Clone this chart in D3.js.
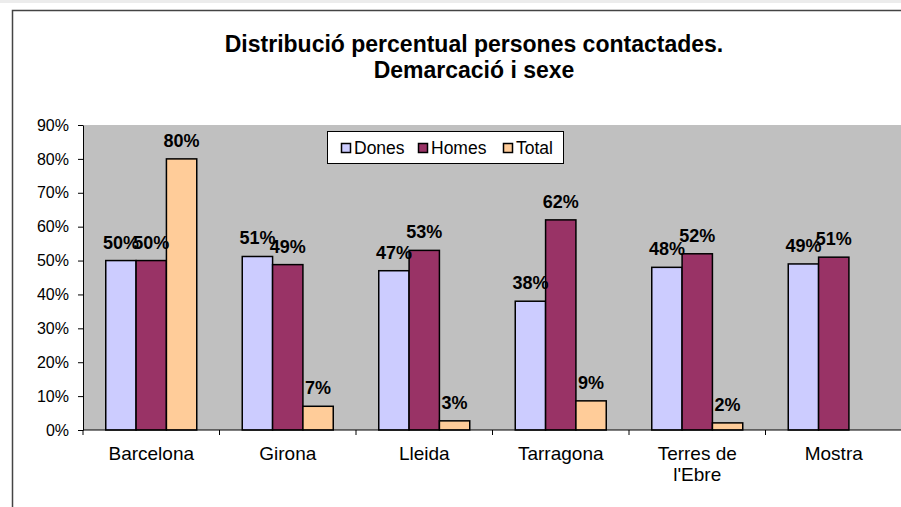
<!DOCTYPE html>
<html>
<head>
<meta charset="utf-8">
<script src="https://cdn.jsdelivr.net/npm/d3@7"></script>
<style>
  body { margin: 0; background: #fff; }
  svg { display: block; font-family: "Liberation Sans", Arial, sans-serif; }
</style>
</head>
<body>
<div id="elements"></div>
<script>
// data
var categories = ["Barcelona", "Girona", "Lleida", "Tarragona", "Terres de l'Ebre", "Mostra"];
var seriesNames = ["Dones", "Homes", "Total"];
var dones = [50, 51.2, 47, 38, 48, 49];
var homes = [50, 48.8, 53, 62, 52, 51];
var total = [80, 7, 2.7, 8.6, 2.1, null];
var yTicks = [0, 10, 20, 30, 40, 50, 60, 70, 80, 90];
var colors = ["#CCCCFF", "#993366", "#FFCC99"];

var width = 901, height = 507;
var svg = d3.select("#elements").append("svg")
    .attr("width", width)
    .attr("height", height);

// light strip + chart frame
svg.append("rect").attr("x", 0).attr("y", 0).attr("width", width).attr("height", 3).attr("fill", "#ececec");
svg.append("rect")
    .attr("x", 12.5).attr("y", 10.5)
    .attr("width", 1000).attr("height", 700)
    .attr("fill", "#fff").attr("stroke", "#444").attr("stroke-width", 1.5);

// title
var title = svg.append("text")
    .attr("text-anchor", "middle")
    .attr("font-weight", "bold")
    .attr("font-size", 23)
    .attr("fill", "#000");
title.append("tspan").attr("x", 474).attr("y", 52).text("Distribució percentual persones contactades.");
title.append("tspan").attr("x", 474).attr("y", 78).text("Demarcació i sexe");

var plot = { left: 83, top: 125, right: 902, bottom: 430 };

var x = d3.scaleBand()
    .domain(categories)
    .range([plot.left, plot.right])
    .padding(0);

var xs = d3.scaleBand()
    .domain(seriesNames)
    .range([0, x.bandwidth()])
    .paddingInner(0)
    .paddingOuter(0.75);

var y = d3.scaleLinear()
    .domain([0, 90])
    .range([plot.bottom, plot.top]);

// plot background
svg.append("rect")
    .attr("x", plot.left).attr("y", plot.top)
    .attr("width", plot.right - plot.left).attr("height", plot.bottom - plot.top)
    .attr("fill", "#C0C0C0");

// bars
var rows = categories.map(function (c, i) {
    return { cat: c, values: [dones[i], homes[i], total[i]] };
});

var groups = svg.append("g").selectAll("g")
    .data(rows)
    .join("g")
    .attr("transform", function (d) { return "translate(" + x(d.cat) + ",0)"; });

groups.selectAll("rect")
    .data(function (d) {
        return d.values.map(function (v, j) { return { s: seriesNames[j], v: v, j: j }; })
            .filter(function (e) { return e.v != null; });
    })
    .join("rect")
    .attr("x", function (d) { return xs(d.s); })
    .attr("y", function (d) { return y(d.v); })
    .attr("width", xs.bandwidth())
    .attr("height", function (d) { return y(0) - y(d.v); })
    .attr("fill", function (d) { return colors[d.j]; })
    .attr("stroke", "#000")
    .attr("stroke-width", 1.5);

// data labels
groups.selectAll("text")
    .data(function (d) {
        return d.values.map(function (v, j) { return { s: seriesNames[j], v: v }; })
            .filter(function (e) { return e.v != null; });
    })
    .join("text")
    .attr("x", function (d) { return xs(d.s) + xs.bandwidth() / 2; })
    .attr("y", function (d) { return y(d.v) - 12; })
    .attr("text-anchor", "middle")
    .attr("font-weight", "bold")
    .attr("font-size", 18)
    .attr("fill", "#000")
    .text(function (d) { return Math.round(d.v) + "%"; });

// y axis
var yAxis = svg.append("g")
    .attr("transform", "translate(" + plot.left + ",0)")
    .call(d3.axisLeft(y)
        .tickValues(yTicks)
        .tickFormat(function (d) { return d + "%"; })
        .tickSize(5)
        .tickSizeOuter(0)
        .tickPadding(9));
yAxis.select(".domain").attr("stroke", "#000");
yAxis.selectAll(".tick line").attr("stroke", "#000");
yAxis.selectAll("text")
    .attr("font-size", 16)
    .attr("font-family", "Liberation Sans, Arial, sans-serif")
    .attr("fill", "#000");

// x axis line and boundary ticks
svg.append("line")
    .attr("x1", plot.left).attr("x2", plot.right)
    .attr("y1", plot.bottom).attr("y2", plot.bottom)
    .attr("stroke", "#000");
svg.append("g").selectAll("line")
    .data(categories.concat(["end"]))
    .join("line")
    .attr("x1", function (d, i) { return plot.left + i * x.step(); })
    .attr("x2", function (d, i) { return plot.left + i * x.step(); })
    .attr("y1", plot.bottom)
    .attr("y2", plot.bottom + 5)
    .attr("stroke", "#000");

// category labels (wrap "Terres de l'Ebre")
var catLabels = svg.append("g").selectAll("text")
    .data(categories)
    .join("text")
    .attr("text-anchor", "middle")
    .attr("font-size", 19)
    .attr("fill", "#000");
catLabels.each(function (d) {
    var lines = d === "Terres de l'Ebre" ? ["Terres de", "l'Ebre"] : [d];
    var t = d3.select(this);
    lines.forEach(function (l, k) {
        t.append("tspan")
            .attr("x", x(d) + x.bandwidth() / 2)
            .attr("y", 460 + k * 21)
            .text(l);
    });
});

// legend
var legend = svg.append("g");
legend.append("rect")
    .attr("x", 327.5).attr("y", 131.5)
    .attr("width", 236).attr("height", 32)
    .attr("fill", "#fff").attr("stroke", "#000");
var legendX = [341, 418, 503];
var legendItems = legend.selectAll("g")
    .data(seriesNames)
    .join("g")
    .attr("transform", function (d, i) { return "translate(" + legendX[i] + ",0)"; });
legendItems.append("rect")
    .attr("x", 0.5).attr("y", 143.5)
    .attr("width", 9).attr("height", 9)
    .attr("fill", function (d, i) { return colors[i]; })
    .attr("stroke", "#000")
    .attr("stroke-width", 1.5);
legendItems.append("text")
    .attr("x", 13).attr("y", 154)
    .attr("font-size", 17.5)
    .attr("fill", "#000")
    .text(function (d) { return d; });
</script>
</body>
</html>
